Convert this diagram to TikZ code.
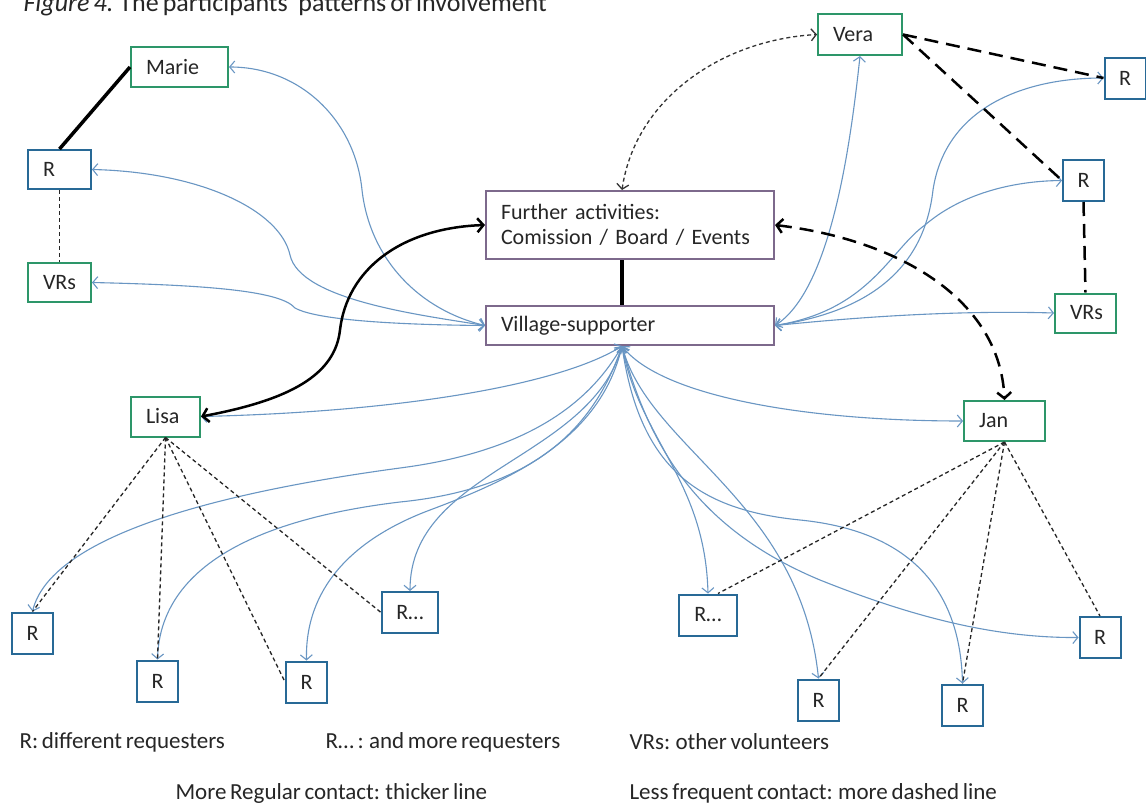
\documentclass[tikz,border=0pt]{standalone}
\usepackage{fontspec}
\setmainfont{Carlito}[WordSpace=0.7]
\usetikzlibrary{arrows.meta,calc}
\definecolor{gcol}{RGB}{45,150,105}
\definecolor{bcol}{RGB}{40,105,150}
\definecolor{pcol}{RGB}{125,105,140}
\definecolor{lcol}{RGB}{105,150,195}
\begin{document}
\begin{tikzpicture}[x=1pt,y=-1pt,
  every node/.style={font=\fontsize{22}{25}\selectfont, text=black!85},
  gb/.style={draw=gcol, line width=2pt, fill=white, inner xsep=15pt, inner ysep=0pt, minimum height=40pt, align=left},
  bb/.style={draw=bcol, line width=2pt, fill=white, inner xsep=15pt, inner ysep=0pt, minimum height=40pt, align=left},
  rb/.style={draw=bcol, line width=2pt, fill=white, inner sep=0pt, minimum width=41pt, minimum height=41pt},
  pb/.style={draw=pcol, line width=2pt, fill=white, inner xsep=15pt, inner ysep=0pt, align=left},
  bl/.style={draw=lcol, line width=1.1pt, <->, >={Straight Barb[length=5pt,width=12pt]}},
  thickblk/.style={draw=black, line width=3.5pt},
  thickarr/.style={draw=black, line width=2.5pt, <->, >={Straight Barb[length=6pt,width=14pt]}},
  thindash/.style={draw=black!85, line width=1.3pt, dash pattern=on 4pt off 3pt},
  thinarr/.style={draw=black!80, line width=1.3pt, dash pattern=on 4pt off 3pt, <->, >={Straight Barb[length=5pt,width=12pt]}},
  longdash/.style={draw=black, line width=2.5pt, dash pattern=on 14pt off 8pt},
  legend/.style={anchor=west, font=\fontsize{23}{26}\selectfont}
]
\fill[white] (0,0) rectangle (1146,803);
\useasboundingbox (0,0) rectangle (1146,803);

\node[anchor=base west, font=\fontsize{26}{30}\selectfont] (title) at (20,12) {\textit{Figure 4.} The participants’ patterns of involvement};

% green / blue labelled boxes
\node[gb, text width=67pt] (marie) at (179.5,67) {Marie};
\node[bb, text width=33pt, minimum height=39pt] (rtl) at (59.5,169.5) {R};
\node[gb, text width=33pt, minimum height=39pt] (vrsl) at (59.5,282.5) {VRs};
\node[gb, text width=39pt] (lisa) at (165.5,416.5) {Lisa};
\node[gb, text width=51pt] (jan) at (1004.5,421) {Jan};
\node[gb, text width=54pt, minimum height=41pt] (vera) at (860,34.5) {Vera};
\node[rb] (rtr) at (1125,78) {R};
\node[rb] (rmid) at (1083.5,180.5) {R};
\node[gb, text width=31pt, minimum height=39pt] (vrsr) at (1085.5,313) {VRs};

% central boxes
\node[pb, text width=258pt, minimum height=68pt] (fa) at (630,225) {Further activities:\\Comission / Board / Events};
\node[pb, text width=258pt, minimum height=39pt] (vs) at (630,325.5) {Village-supporter};

% requesters at the bottom
\node[rb] (rb1) at (32.5,633) {R};
\node[rb] (rb2) at (157.5,681) {R};
\node[rb] (rb3) at (306.5,682) {R};
\node[rb, minimum width=56pt] (rd1) at (410,612.5) {R…};
\node[rb, minimum width=58pt] (rd2) at (708,615) {R…};
\node[rb] (rb4) at (818.5,700) {R};
\node[rb] (rb5) at (962.5,705) {R};
\node[rb] (rb6) at (1100,637.5) {R};

\coordinate (fan) at ($(vs.south)+(-8,0)$);

% blue contact lines, left side
\draw[bl] (vs.west) .. controls (420,310) and (370,260) .. (362,190) .. controls (355,120) and (300,67) .. (marie.east);
\draw[bl] (vs.west) .. controls (420,315) and (300,300) .. (290,255) .. controls (280,210) and (200,172) .. (rtl.east);
\draw[bl] (vs.west) .. controls (420,325) and (320,322) .. (295,308) .. controls (280,290) and (200,285) .. (vrsl.east);
% right side
\draw[bl] (vs.east) .. controls (830,290) and (850,150) .. (vera.south);
\draw[bl] (vs.east) .. controls (880,310) and (925,260) .. (933,190) .. controls (945,110) and (1020,78) .. (rtr.west);
\draw[bl] (vs.east) .. controls (870,310) and (890,250) .. (925,225) .. controls (960,195) and (1010,181) .. (rmid.west);
\draw[bl] (vs.east) .. controls (850,318) and (950,310) .. (vrsr.west);
% fan from the bottom
\draw[bl] (fan) .. controls (560,385) and (400,412) .. (lisa.east);
\draw[bl] (fan) .. controls (660,395) and (800,421) .. (jan.west);
\draw[bl] (fan) .. controls (580,420) and (500,455) .. (400,468) .. controls (200,495) and (50,540) .. (rb1.north);
\draw[bl] (fan) .. controls (590,440) and (520,490) .. (400,502) .. controls (250,520) and (160,570) .. (rb2.north);
\draw[bl] (fan) .. controls (600,440) and (510,480) .. (430,510) .. controls (350,540) and (305,590) .. (rb3.north);
\draw[bl] (fan) .. controls (590,460) and (410,470) .. (rd1.north);
\draw[bl] (fan) .. controls (640,440) and (705,480) .. (rd2.north);
\draw[bl] (fan) .. controls (650,450) and (800,500) .. (rb4.north);
\draw[bl] (fan) .. controls (640,470) and (700,510) .. (800,520) .. controls (900,530) and (960,580) .. (rb5.north);
\draw[bl] (fan) .. controls (650,450) and (700,530) .. (820,580) .. controls (920,620) and (1000,638) .. (rb6.west);

% black connectors
\draw[thickblk] (marie.west) -- (rtl.north);
\draw[thindash] (rtl.south) -- (vrsl.north);
\draw[thickblk] ($(fa.south)+(-8,0)$) -- ($(vs.north)+(-8,0)$);
\draw[thickarr] (lisa.east) .. controls (290,400) and (335,375) .. (340,330) .. controls (347,270) and (400,228) .. (fa.west);
\draw[thinarr] ($(fa.north)+(-8,0)$) .. controls (635,100) and (720,40) .. (vera.west);
\draw[longdash, <->, >={Straight Barb[length=6pt,width=14pt]}] (fa.east) .. controls (900,240) and (1000,300) .. (jan.north);
\draw[longdash] (vera.east) -- (rtr.west);
\draw[longdash] (vera.east) -- (rmid.west);
\draw[longdash] (rmid.south) -- (vrsr.north);

\draw[thindash] (lisa.south) -- (rb1.north);
\draw[thindash] (lisa.south) -- (rb2.north);
\draw[thindash] (lisa.south) -- (rb3.west);
\draw[thindash] (lisa.south) -- (rd1.west);
\draw[thindash] (jan.south) -- ($(rd2.north)+(10,0)$);
\draw[thindash] (jan.south) -- (rb4.north);
\draw[thindash] (jan.south) -- (rb5.north);
\draw[thindash] (jan.south) -- (rb6.north);

% legend
\node[legend] (l1) at (16,742) {R: different requesters};
\node[legend] (l2) at (322,742) {R… : and more requesters};
\node[legend] (l3) at (626,742) {VRs: other volunteers};
\node[legend] (l4) at (172,793) {More Regular contact: thicker line};
\node[legend] (l5) at (626,793) {Less frequent contact:  more dashed line};
\end{tikzpicture}
\end{document}
